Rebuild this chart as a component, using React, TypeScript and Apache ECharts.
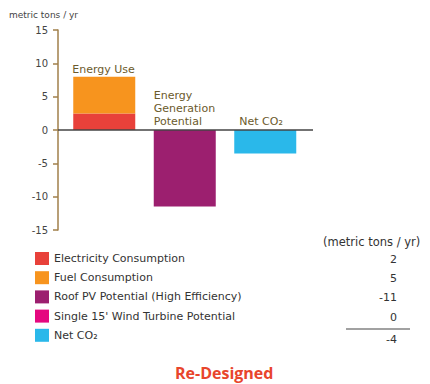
import React, { useEffect, useRef } from "react";
import * as echarts from "echarts";

// Bar groups along the x axis
const categories = ["Energy Use", "Energy\nGeneration\nPotential", "Net CO₂"];

// One entry per series: name, colour, the group it belongs to and its value (metric tons / yr)
const seriesNames = [
  "Electricity Consumption",
  "Fuel Consumption",
  "Roof PV Potential (High Efficiency)",
  "Single 15' Wind Turbine Potential",
  "Net CO₂",
];
const seriesColors = ["#e8413a", "#f7941e", "#9c1f6f", "#e5087f", "#2ab8ea"];
const seriesGroup = [0, 0, 1, 1, 2];
const seriesValues = [2.49, 5.49, -11.49, 0, -3.51];

// Value axis ticks
const yMin = -15;
const yMax = 15;
const yStep = 5;

const FONT = "DejaVu Sans";
const LABEL_COLOR = "#6b5a2c";
const AXIS_COLOR = "#a07f4a";

// Which series carries the group label, and its nudge from the bar's top-left corner
const labelSeries: Record<number, [number, number]> = {
  1: [-1, -1],
  2: [0, -2],
  4: [5, -2],
};

export default function App() {
  const ref = useRef<HTMLDivElement>(null);

  useEffect(() => {
    document.body.style.margin = "0";
    const chart = echarts.init(ref.current!, null, { renderer: "svg" });

    const series = seriesNames.map((name, i) => {
      const data = categories.map((_, c) =>
        c === seriesGroup[i] ? seriesValues[i] : "-"
      );
      const off = labelSeries[i];
      return {
        name,
        type: "bar",
        stack: "total",
        barWidth: 62,
        itemStyle: { color: seriesColors[i] },
        data,
        label: off
          ? {
              show: true,
              position: off,
              align: "left",
              verticalAlign: "bottom",
              formatter: "{b}",
              fontFamily: FONT,
              fontSize: 11,
              lineHeight: 13,
              color: LABEL_COLOR,
            }
          : { show: false },
      };
    });

    chart.setOption({
      animation: false,
      backgroundColor: "#ffffff",
      title: [
        {
          text: "metric tons / yr",
          left: 9,
          top: 10,
          padding: 0,
          textStyle: { fontFamily: FONT, fontSize: 9, fontWeight: "normal", color: "#444" },
        },
        {
          text: "Re-Designed",
          left: 175,
          top: 363,
          padding: 0,
          textStyle: {
            fontFamily: "Open Sans",
            fontSize: 16,
            lineHeight: 20,
            fontWeight: "bold",
            color: "#e8452c",
          },
        },
      ],
      grid: { left: 64, top: 30, width: 241.5, height: 200 },
      xAxis: {
        type: "category",
        data: categories,
        axisLine: { show: false },
        axisTick: { show: false },
        axisLabel: { show: false },
        splitLine: { show: false },
      },
      yAxis: {
        type: "value",
        min: yMin,
        max: yMax,
        interval: yStep,
        offset: 6,
        axisLine: { show: true, lineStyle: { color: AXIS_COLOR, width: 1.5 } },
        axisTick: { show: true, length: 5, lineStyle: { color: AXIS_COLOR, width: 1.5 } },
        axisLabel: { fontFamily: FONT, fontSize: 10, color: "#444", margin: 10 },
        splitLine: { show: false },
      },
      legend: {
        orient: "vertical",
        left: 35,
        top: 252,
        padding: 0,
        icon: "rect",
        itemWidth: 14,
        itemHeight: 13,
        itemGap: 6.2,
        selectedMode: false,
        data: seriesNames,
        textStyle: { fontFamily: FONT, fontSize: 11, lineHeight: 13, color: "#333" },
      },
      series,
    });

    // Zero line across the plot, plus the value table beside the legend
    const y0 = chart.convertToPixel({ yAxisIndex: 0 }, 0) as number;
    const rowY = [259, 278, 297, 317, 339];
    const textStyle = { fontFamily: FONT, fontSize: 11, fill: "#333" };
    chart.setOption({
      graphic: [
        {
          type: "line",
          z: 10,
          shape: { x1: 58, y1: y0, x2: 313, y2: y0 },
          style: { stroke: "#444", lineWidth: 1.3 },
        },
        {
          type: "text",
          x: 323,
          y: 242,
          style: { ...textStyle, fontSize: 11.5, text: "(metric tons / yr)", align: "left", verticalAlign: "middle" },
        },
        ...seriesValues.map((v, i) => ({
          type: "text",
          x: 397,
          y: rowY[i],
          style: { ...textStyle, text: v.toFixed(0), align: "right", verticalAlign: "middle" },
        })),
        {
          type: "line",
          shape: { x1: 346, y1: 329, x2: 410, y2: 329 },
          style: { stroke: "#444", lineWidth: 1.2 },
        },
      ],
    });

    return () => chart.dispose();
  }, []);

  return (
    <div
      ref={ref}
      style={{ position: "fixed", left: 0, top: 0, width: 430, height: 384 }}
    />
  );
}
